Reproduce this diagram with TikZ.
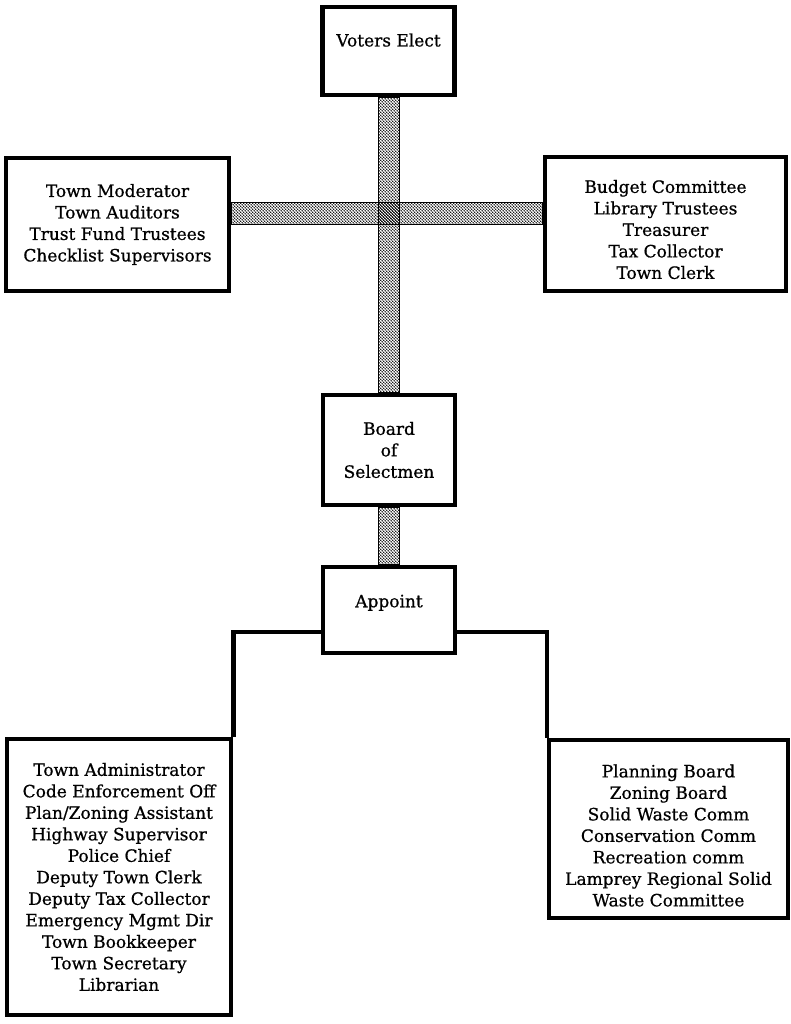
\documentclass[tikz,border=0pt]{standalone}
\usepackage{fontspec}
\setmainfont{DejaVu Serif}[FakeBold=0.7]
\usetikzlibrary{patterns,backgrounds}
\pgfdeclarepatternformonly{bardots}{\pgfpointorigin}{\pgfpoint{3.4pt}{3.4pt}}{\pgfpoint{3.4pt}{3.4pt}}{%
  \pgfpathcircle{\pgfpoint{0.85pt}{0.85pt}}{0.9pt}%
  \pgfpathcircle{\pgfpoint{2.55pt}{2.55pt}}{0.9pt}%
  \pgfusepath{fill}}
\newcommand{\pushdown}[1]{\rule{0pt}{#1}}
\newcommand{\pushup}[1]{\rule[-#1]{0pt}{0pt}}
\begin{document}
\begin{tikzpicture}[x=1pt,y=-1pt,
  box/.style={draw, line width=4.5pt, fill=white, align=center, inner sep=0pt,
    font=\fontsize{17}{21.5}\selectfont},
  bar/.style={draw, line width=0.9pt, pattern=bardots, pattern color=black},
  wire/.style={draw, line width=4.5pt, line join=miter}]
\useasboundingbox (0,0) rectangle (791,1024);
\node[box, minimum width=132pt, minimum height=88pt] (voters) at (388.5,51) {Voters Elect\pushup{22pt}};
\node[box, minimum width=223pt, minimum height=133pt] (elect1) at (117.5,224.5)
  {Town Moderator\\Town Auditors\\Trust Fund Trustees\\Checklist Supervisors};
\node[box, minimum width=241pt, minimum height=134pt] (elect2) at (665.5,224)
  {\pushdown{24pt}Budget Committee\\Library Trustees\\Treasurer\\Tax Collector\\Town Clerk};
\node[box, minimum width=132pt, minimum height=110pt] (board) at (389,450)
  {Board\\of\\Selectmen};
\node[box, minimum width=132pt, minimum height=86pt] (appoint) at (389,610) {Appoint\pushup{18pt}};
\node[box, minimum width=224pt, minimum height=276pt] (admin) at (119,877)
  {Town Administrator\\Code Enforcement Off\\Plan/Zoning Assistant\\Highway Supervisor\\Police Chief\\Deputy Town Clerk\\Deputy Tax Collector\\Emergency Mgmt Dir\\Town Bookkeeper\\Town Secretary\\Librarian};
\node[box, minimum width=239pt, minimum height=178pt] (boards) at (668.5,829)
  {\pushdown{26pt}Planning Board\\Zoning Board\\Solid Waste Comm\\Conservation Comm\\Recreation comm\\Lamprey Regional Solid\\Waste Committee};
\begin{scope}[on background layer]
  \path[bar] ([xshift=-10.5pt]voters.south) rectangle ([xshift=10.5pt]board.north);
  \path[bar] ([yshift=22pt]elect1.east) rectangle (elect2.west);
  \path[bar] ([xshift=-10.5pt]board.south) rectangle ([xshift=10.5pt]appoint.north);
\end{scope}
\draw[wire] ([yshift=-22pt]appoint.west) -| (admin.north east);
\draw[wire] ([yshift=-22pt]appoint.east) -| (boards.north west);
\end{tikzpicture}
\end{document}
